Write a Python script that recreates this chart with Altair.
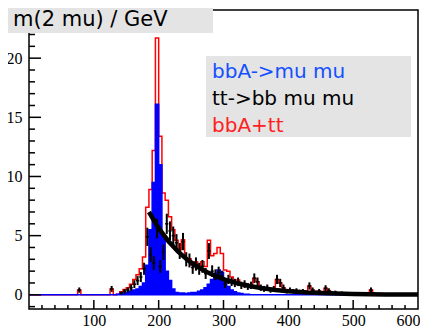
import altair as alt
import pandas as pd

# 5 GeV bins, lower edges 0 .. 595
bin_lo = list(range(0, 600, 5))

blue = [
    0, 0, 0, 0, 0, 0, 0, 0, 0, 0,
    0, 0, 0, 0, 0, 0, 0, 0, 0, 0,
    0, 0, 0, 0, 0, 0, 0, 0.05, 0.1, 0.15,
    0.2, 0.3, 0.4, 0.5, 0.7, 1.0, 2.5, 5.5, 9.5, 16.1,
    11.0, 5.0, 2.0, 1.2, 0.5, 0.2, 0.15, 0.15, 0.1, 0.15,
    0.2, 0.2, 0.3, 0.4, 0.6, 0.9, 1.3, 1.8, 2.1, 1.9,
    1.2, 0.7, 0.4, 0.25, 0.15, 0.1, 0.05, 0.05, 0, 0,
    0, 0, 0, 0, 0, 0, 0, 0, 0, 0,
    0, 0, 0, 0, 0, 0, 0, 0, 0, 0,
    0, 0, 0, 0, 0, 0, 0, 0, 0, 0,
    0, 0, 0, 0, 0, 0, 0, 0, 0, 0,
    0, 0, 0, 0, 0, 0, 0, 0, 0, 0,
]

black = [
    0, 0, 0, 0, 0, 0, 0, 0, 0, 0,
    0, 0, 0, 0, 0, 0.4, 0, 0, 0, 0,
    0, 0, 0, 0, 0, 0.5, 0, 0, 0.15, 0.3,
    0.4, 0.6, 0.9, 1.2, 1.5, 2.2, 4.9, 3.4, 2.7, 5.6,
    2.4, 3.6, 6.0, 5.4, 5.0, 4.4, 3.7, 4.5, 3.0, 2.9,
    2.3, 2.6, 2.2, 2.4, 1.8, 3.7, 2.0, 1.7, 1.9, 1.6,
    0.9, 1.3, 1.1, 1.0, 1.1, 0.8, 0.9, 0.7, 0.8, 1.4,
    1.1, 0.6, 0.5, 0.6, 0.4, 0.5, 1.3, 1.0, 0.6, 0.3,
    0.4, 0.3, 0.35, 0.25, 0.3, 0.2, 0.75, 0.4, 0.2, 0.3,
    0.15, 0.55, 0.35, 0.15, 0.2, 0.1, 0.15, 0.05, 0.1, 0.05,
    0.1, 0.05, 0.1, 0.05, 0.1, 0.4, 0.1, 0.05, 0, 0.05,
    0, 0.05, 0, 0, 0.05, 0, 0, 0, 0, 0,
]

black_err = [
    0, 0, 0, 0, 0, 0, 0, 0, 0, 0,
    0, 0, 0, 0, 0, 0.22, 0, 0, 0, 0,
    0, 0, 0, 0, 0, 0.25, 0, 0, 0.13, 0.19,
    0.22, 0.27, 0.33, 0.38, 0.42, 0.51, 0.77, 0.64, 0.57, 0.82,
    0.54, 0.66, 0.85, 0.8, 0.77, 0.73, 0.67, 0.73, 0.6, 0.59,
    0.53, 0.56, 0.51, 0.54, 0.46, 0.67, 0.49, 0.45, 0.48, 0.44,
    0.33, 0.39, 0.36, 0.35, 0.36, 0.31, 0.33, 0.29, 0.31, 0.41,
    0.36, 0.27, 0.25, 0.27, 0.22, 0.25, 0.39, 0.35, 0.27, 0.19,
    0.22, 0.19, 0.2, 0.17, 0.19, 0.15, 0.3, 0.22, 0.15, 0.19,
    0.13, 0.26, 0.2, 0.13, 0.15, 0.11, 0.13, 0.08, 0.11, 0.08,
    0.11, 0.08, 0.11, 0.08, 0.11, 0.22, 0.11, 0.08, 0, 0.08,
    0, 0.08, 0, 0, 0.08, 0, 0, 0, 0, 0,
]

red = [
    0, 0, 0, 0, 0, 0, 0, 0, 0, 0,
    0, 0, 0, 0, 0, 0.4, 0, 0, 0, 0,
    0, 0, 0, 0, 0, 0.5, 0, 0.05, 0.25, 0.45,
    0.6, 0.9, 1.3, 1.7, 2.2, 3.2, 7.4, 8.9, 12.2, 21.7,
    13.4, 8.6, 8.0, 6.6, 5.5, 4.6, 3.85, 4.65, 3.1, 3.05,
    2.5, 2.8, 2.5, 2.8, 2.4, 4.6, 3.3, 3.5, 4.0, 3.5,
    2.1, 2.0, 1.5, 1.25, 1.25, 0.9, 0.95, 0.75, 0.8, 1.4,
    1.1, 0.6, 0.5, 0.6, 0.4, 0.5, 1.3, 1.0, 0.6, 0.3,
    0.4, 0.3, 0.35, 0.25, 0.3, 0.2, 0.75, 0.4, 0.2, 0.3,
    0.15, 0.55, 0.35, 0.15, 0.2, 0.1, 0.15, 0.05, 0.1, 0.05,
    0.1, 0.05, 0.1, 0.05, 0.1, 0.4, 0.1, 0.05, 0, 0.05,
    0, 0.05, 0, 0, 0.05, 0, 0, 0, 0, 0,
]

# exponential fit curve
fit_x = [185, 200, 215, 230, 245, 260, 275, 290, 305, 320, 340, 360, 380, 400, 430, 460, 500, 550, 600]
fit_y = [7.0, 5.63, 4.53, 3.65, 2.93, 2.36, 1.90, 1.53, 1.23, 0.99, 0.74, 0.55, 0.41, 0.31, 0.20, 0.13, 0.07, 0.035, 0.017]

x_labels = [100, 200, 300, 400, 500, 600]
x_major = [100, 200, 300, 400, 500]
x_minor = [v for v in range(20, 600, 20) if v % 100 != 0]
y_labels = [0, 5, 10, 15, 20]
y_minor = [v for v in range(-1, 25) if v % 5 != 0]

title_text = "m(2 mu) / GeV"
legend_labels = ["bbA->mu mu", "tt->bb mu mu", "bbA+tt"]
legend_colors = ["#1450ff", "#000000", "#ff2020"]

W, H = 389, 299

df = pd.DataFrame({"lo": bin_lo, "blue": blue, "black": black, "err": black_err, "red": red})
df["hi"] = df["lo"] + 5
df["c"] = df["lo"] + 2.5
df["top"] = df["black"] + df["err"]
df["bot"] = df["black"] - df["err"]
step = pd.concat([df[["lo", "blue", "red"]], pd.DataFrame({"lo": [600], "blue": [0.0], "red": [0.0]})],
                 ignore_index=True)
pts = df[df["black"] > 0]
fit = pd.DataFrame({"x": fit_x, "y": fit_y})

xs = alt.Scale(domain=[0, 600], nice=False, zero=False)
ys = alt.Scale(domain=[-1.2, 24.07], nice=False, zero=False)
xax = alt.Axis(values=x_labels, ticks=False, domain=False, grid=False, title=None,
               labelFont="Liberation Serif", labelFontSize=16, labelColor="black",
               labelPadding=3, labelFlush=True, labelFlushOffset=2, labelOverlap=False)
yax = alt.Axis(values=y_labels, ticks=False, domain=False, grid=False, title=None,
               labelFont="Liberation Serif", labelFontSize=16, labelColor="black",
               labelPadding=7, labelFlush=False, labelOverlap=False)


def X(f, **kw):
    return alt.X(f, type="quantitative", scale=xs, axis=xax, **kw)


def Y(f, **kw):
    return alt.Y(f, type="quantitative", scale=ys, axis=yax, **kw)


red_line = alt.Chart(step).mark_line(interpolate="step-after", color="#ff0000", strokeWidth=1.5).encode(
    x=X("lo"), y=Y("red"))

blue_area = alt.Chart(step).mark_area(interpolate="step-after", color="#0000ff", stroke="#0000ff",
                                      strokeWidth=1.5, opacity=1).encode(
    x=X("lo"), y=Y("blue"), y2=alt.datum(0))

err_v = alt.Chart(pts).mark_rule(color="black", strokeWidth=2).encode(
    x=X("c"), y=Y("bot"), y2="top")
err_h = alt.Chart(pts).mark_rule(color="black", strokeWidth=1.5).encode(
    x=X("lo"), x2="hi", y=Y("black"))

fit_line = alt.Chart(fit).mark_line(color="black", strokeWidth=4.5).encode(
    x=X("x"), y=Y("y"))

tick_y_major = alt.Chart(pd.DataFrame({"v": y_labels})).mark_rule(color="black", strokeWidth=1.5).encode(
    y=Y("v"), x=alt.value(0), x2=alt.value(12))
tick_y_minor = alt.Chart(pd.DataFrame({"v": y_minor})).mark_rule(color="black", strokeWidth=1.5).encode(
    y=Y("v"), x=alt.value(0), x2=alt.value(6))
tick_x_major = alt.Chart(pd.DataFrame({"v": x_major})).mark_rule(color="black", strokeWidth=1.5).encode(
    x=X("v"), y=alt.value(H), y2=alt.value(H - 9))
tick_x_minor = alt.Chart(pd.DataFrame({"v": x_minor})).mark_rule(color="black", strokeWidth=1.5).encode(
    x=X("v"), y=alt.value(H), y2=alt.value(H - 4))

one = pd.DataFrame({"t": [title_text]})
title_box = alt.Chart(one).mark_rect(color="#e4e4e4").encode(
    x=alt.value(-21), x2=alt.value(184), y=alt.value(-2), y2=alt.value(23))
title_txt = alt.Chart(one).mark_text(font="DejaVu Sans", fontSize=21, color="black", align="left",
                                     baseline="alphabetic").encode(
    x=alt.value(-16), y=alt.value(16), text="t:N")

leg_box = alt.Chart(one).mark_rect(color="#e4e4e4").encode(
    x=alt.value(177), x2=alt.value(382), y=alt.value(46), y2=alt.value(127))
leg_txts = []
for i, (lab, col) in enumerate(zip(legend_labels, legend_colors)):
    leg_txts.append(
        alt.Chart(pd.DataFrame({"t": [lab]})).mark_text(font="DejaVu Sans", fontSize=20, color=col,
                                                         align="left", baseline="alphabetic").encode(
            x=alt.value(183), y=alt.value(68 + 26.8 * i), text="t:N"))

chart = alt.layer(
    red_line, blue_area, err_v, err_h, fit_line,
    tick_y_major, tick_y_minor, tick_x_major, tick_x_minor,
    title_box, title_txt, leg_box, *leg_txts
).properties(
    width=W, height=H,
    autosize=alt.AutoSizeParams(type="none"),
    padding={"left": 21, "top": 2, "right": 2, "bottom": 20},
    background="white",
).configure_view(stroke="black", strokeWidth=1.5)

chart.save("out.html", embed_options={"renderer": "svg", "actions": False})
